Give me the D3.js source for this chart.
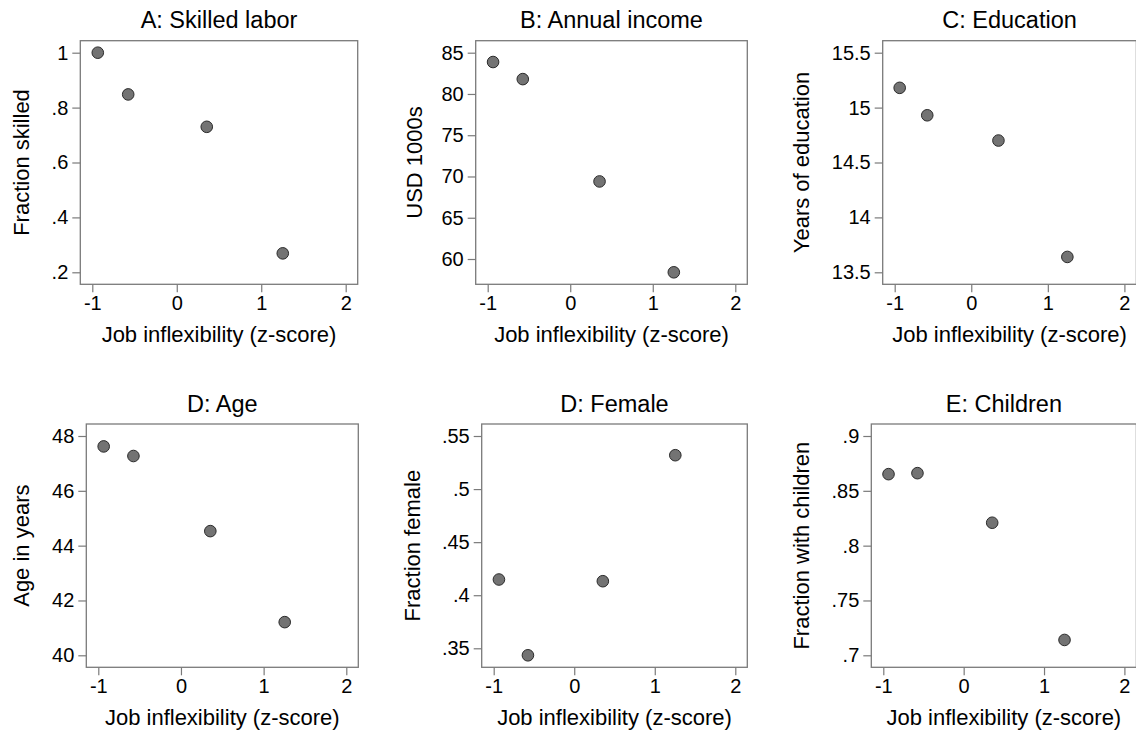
<!DOCTYPE html>
<html>
<head>
<meta charset="utf-8">
<script src="https://cdn.jsdelivr.net/npm/d3@7"></script>
<style>
  html, body { margin: 0; padding: 0; background: #fff; }
  svg { display: block; font-family: "Liberation Sans", Arial, sans-serif; }
</style>
</head>
<body>
<svg id="chart" width="1136" height="733"></svg>
<script>
// Job inflexibility z-score for the four groups (shared x values)
const inflexibility = [-0.935, -0.575, 0.355, 1.255];

// Outcome for each group, one array per panel
const skilledShare   = [1.0, 0.848, 0.730, 0.269];
const incomeK        = [83.87, 81.8, 69.4, 58.39];
const educationYears = [15.18, 14.93, 14.70, 13.64];
const ageYears       = [47.62, 47.27, 44.53, 41.21];
const femaleShare    = [0.4148, 0.3434, 0.4132, 0.5319];
const childrenShare  = [0.8652, 0.8661, 0.8209, 0.714];

// Axis ticks
const xTicks = [-1, 0, 1, 2];
const xTickLabels = ["-1", "0", "1", "2"];
const skilledTicks = [0.2, 0.4, 0.6, 0.8, 1];
const skilledTickLabels = [".2", ".4", ".6", ".8", "1"];
const incomeTicks = [60, 65, 70, 75, 80, 85];
const incomeTickLabels = ["60", "65", "70", "75", "80", "85"];
const educationTicks = [13.5, 14, 14.5, 15, 15.5];
const educationTickLabels = ["13.5", "14", "14.5", "15", "15.5"];
const ageTicks = [40, 42, 44, 46, 48];
const ageTickLabels = ["40", "42", "44", "46", "48"];
const femaleTicks = [0.35, 0.4, 0.45, 0.5, 0.55];
const femaleTickLabels = [".35", ".4", ".45", ".5", ".55"];
const childrenTicks = [0.7, 0.75, 0.8, 0.85, 0.9];
const childrenTickLabels = [".7", ".75", ".8", ".85", ".9"];

// Panel titles and axis titles
const panelTitles = ["A: Skilled labor", "B: Annual income", "C: Education",
                     "D: Age", "D: Female", "E: Children"];
const yTitles = ["Fraction skilled", "USD 1000s", "Years of education",
                 "Age in years", "Fraction female", "Fraction with children"];
const xTitle = "Job inflexibility (z-score)";

const panelValues = [skilledShare, incomeK, educationYears, ageYears, femaleShare, childrenShare];
const panelTicks = [skilledTicks, incomeTicks, educationTicks, ageTicks, femaleTicks, childrenTicks];
const panelTickLabels = [skilledTickLabels, incomeTickLabels, educationTickLabels,
                         ageTickLabels, femaleTickLabels, childrenTickLabels];

// Plot-region frames (left, right, top, bottom) and y-title baseline x
const frames = [
  { l: 80.3,  r: 357.7,  t: 40.7, b: 284.3, yt: 28.5 },
  { l: 475.7, r: 747.3,  t: 40.7, b: 284.3, yt: 421.5 },
  { l: 882.7, r: 1136.4, t: 40.7, b: 284.3, yt: 809 },
  { l: 86.3,  r: 358.3,  t: 424,  b: 667.3, yt: 28.5 },
  { l: 481.7, r: 747.3,  t: 424,  b: 667.3, yt: 420 },
  { l: 871.3, r: 1136.4, t: 424,  b: 667.3, yt: 809 }
];

const PAD = 12;          // inner margin of the plot region
const FRAME = "#7a7a7a";
const TICK_FONT = 20, TITLE_FONT = 23.5, AXIS_FONT = 22;

const svg = d3.select("#chart");

frames.forEach((f, i) => {
  const vals = panelValues[i];
  const ticks = panelTicks[i];
  const tickLabels = panelTickLabels[i];

  const x = d3.scaleLinear()
    .domain(d3.extent(xTicks.concat(inflexibility)))
    .range([f.l + PAD, f.r - PAD]);
  const y = d3.scaleLinear()
    .domain(d3.extent(ticks.concat(vals)))
    .range([f.b - PAD, f.t + PAD]);

  const g = svg.append("g");

  // frame
  g.append("rect")
    .attr("x", f.l).attr("y", f.t)
    .attr("width", f.r - f.l).attr("height", f.b - f.t)
    .attr("fill", "#fff").attr("stroke", FRAME).attr("stroke-width", 1.3);

  // x axis
  const xAxis = d3.axisBottom(x).tickValues(xTicks)
    .tickFormat((d, k) => xTickLabels[k]).tickSize(8).tickPadding(4);
  const gx = g.append("g").attr("transform", `translate(0,${f.b})`).call(xAxis);
  gx.select(".domain").remove();
  gx.selectAll(".tick line").attr("stroke", FRAME).attr("stroke-width", 1.2);
  gx.selectAll(".tick text").attr("fill", "#000")
    .style("font-size", TICK_FONT + "px").style("font-family", "Liberation Sans, Arial, sans-serif");

  // y axis
  const yAxis = d3.axisLeft(y).tickValues(ticks)
    .tickFormat((d, k) => tickLabels[k]).tickSize(8).tickPadding(4);
  const gy = g.append("g").attr("transform", `translate(${f.l},0)`).call(yAxis);
  gy.select(".domain").remove();
  gy.selectAll(".tick line").attr("stroke", FRAME).attr("stroke-width", 1.2);
  gy.selectAll(".tick text").attr("fill", "#000")
    .style("font-size", TICK_FONT + "px").style("font-family", "Liberation Sans, Arial, sans-serif");

  // markers
  g.selectAll("circle.pt")
    .data(vals)
    .join("circle")
    .attr("class", "pt")
    .attr("cx", (d, k) => x(inflexibility[k]))
    .attr("cy", d => y(d))
    .attr("r", 5.8)
    .attr("fill", "#737373")
    .attr("stroke", "#2a2a2a")
    .attr("stroke-width", 1);

  // panel title
  g.append("text")
    .attr("x", (f.l + f.r) / 2).attr("y", f.t - 12.4)
    .attr("text-anchor", "middle")
    .style("font-size", TITLE_FONT + "px")
    .attr("fill", "#000")
    .text(panelTitles[i]);

  // x-axis title
  g.append("text")
    .attr("x", (f.l + f.r) / 2).attr("y", f.b + 57.4)
    .attr("text-anchor", "middle")
    .style("font-size", AXIS_FONT + "px")
    .attr("fill", "#000")
    .text(xTitle);

  // y-axis title
  g.append("text")
    .attr("transform", `translate(${f.yt},${(f.t + f.b) / 2}) rotate(-90)`)
    .attr("text-anchor", "middle")
    .style("font-size", AXIS_FONT + "px")
    .attr("fill", "#000")
    .text(yTitles[i]);
});
</script>
</body>
</html>
